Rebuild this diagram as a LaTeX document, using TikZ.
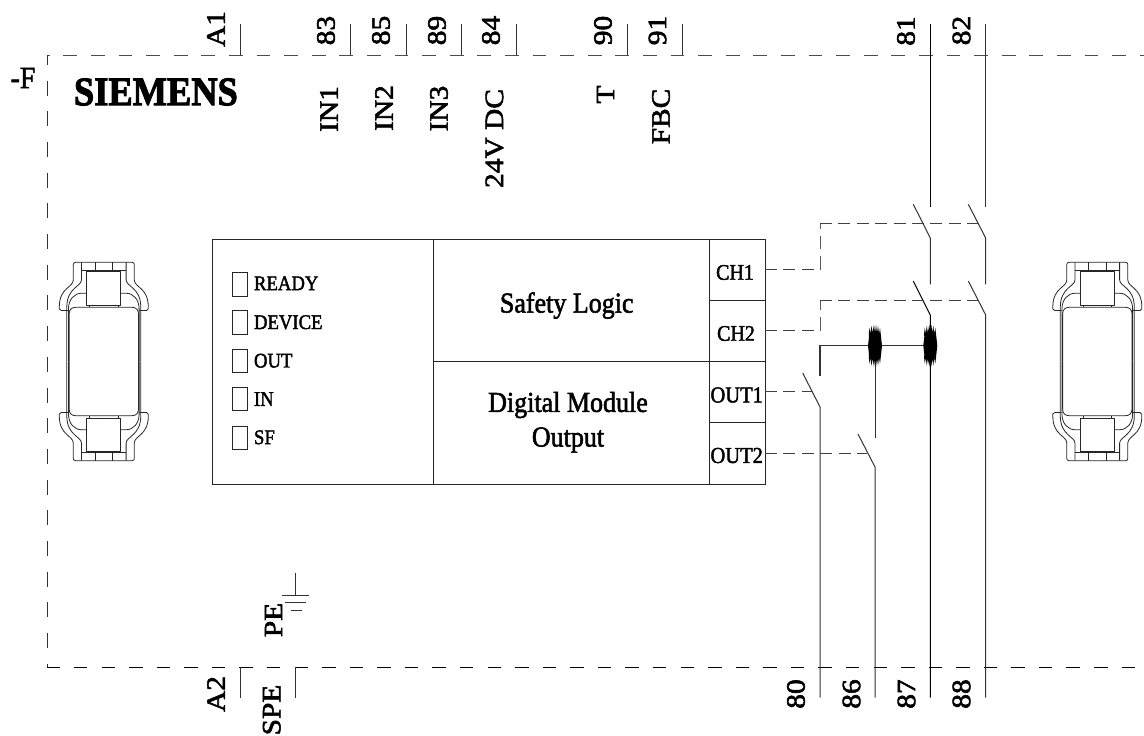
\documentclass[tikz,border=0pt]{standalone}
\usepackage{graphicx}
\usepackage{fontspec}
\setmainfont{Liberation Serif}
\newfontfamily\cadfont{Liberation Serif}[FakeBold=2]
\newfontfamily\cadbold{Liberation Serif Bold}[FakeBold=2.5]
\newcommand{\hlab}[2]{\scalebox{1}[1.11]{\fontsize{#1}{#1}\selectfont\cadfont #2}}
\newcommand{\vlab}[1]{\rotatebox{90}{\scalebox{1.11}[1]{\fontsize{26.5}{26.5}\selectfont\cadfont #1}}}
\tikzset{
  wire/.style={line width=1pt,black!80},
  ctrl/.style={line width=1pt,black!75,dash pattern=on 12pt off 6.4pt},
  ctrlv/.style={line width=1pt,black!65,dash pattern=on 13.3pt off 7.1pt},
  frameh/.style={line width=1pt,black!70,dash pattern=on 13.8pt off 13.8pt},
  framev/.style={line width=1pt,black!80,dash pattern=on 15pt off 15.7pt},
  cell/.style={draw=black!85,line width=1pt,rectangle,inner sep=0pt,outer sep=0pt},
  led/.style={cell,line width=0.9pt,minimum width=14.6pt,minimum height=23.8pt},
  txt/.style={inner sep=0pt,outer sep=0pt},
  clipline/.style={line width=0.8pt,black!85,line join=round}
}
\newcommand{\clipquarter}{%
  \draw[clipline] (0,-297.5) -- (-85,-297.5) .. controls (-89,-297.5) and (-91.5,-295) .. (-91.5,-291) -- (-91.5,-245)
     .. controls (-91.5,-222) and (-133,-222) .. (-133.5,-165) -- (-133.5,-158) .. controls (-133.5,-155) and (-131,-153) .. (-128,-153) -- (-107,-153);
  \draw[clipline] (-67,-297.5) -- (-67,-245) .. controls (-67,-225) and (-110,-222) .. (-111,-165) -- (-111,0);
  \draw[clipline] (-51,-205) -- (-65,-205) .. controls (-90,-205) and (-105,-185) .. (-106,-160) -- (-106,0);
  \draw[clipline] (0,-162.5) -- (-85,-162.5) .. controls (-97,-162.5) and (-104,-155) .. (-104,-143) -- (-104,0);
  \draw[clipline] (0,-269.5) -- (-51,-269.5) -- (-51,-169.5) -- (0,-169.5);
  \draw[clipline] (-67,-273) -- (0,-273);
  \draw[clipline] (-26.5,-297.5) -- (-26.5,-273);
  \draw[clipline] (-43,-169.5) -- (-43,-162.5);
}
\newcommand{\clipshape}[2]{%
  \foreach \sx/\sy in {1/1,-1/1,1/-1,-1/-1}{
    \begin{scope}[shift={(#1,#2)},x=\sx*0.3333pt,y=\sy*0.3333pt]
      \clipquarter
    \end{scope}
  }%
}
\newcommand{\blobshape}[1]{%
  \fill[black,shift={(#1)}] (-7,0) -- (-6,-9) -- (-6.2,-12) -- (-5.5,-18) -- (-4.6,-12) -- (-3.5,-20) -- (-2.5,-13) -- (-1,-21) -- (0,-13) -- (1,-21) -- (2,-13) -- (3,-20) -- (4,-12) -- (5,-18) -- (6,-9) -- (7,0)
   -- (6,9) -- (5,18) -- (4,12) -- (3,20) -- (2,13) -- (1,21) -- (0,13) -- (-1,21) -- (-2.5,13) -- (-3.5,20) -- (-4.6,12) -- (-5.5,18) -- (-6.2,12) -- (-6,9) -- cycle;
}
\begin{document}
\begin{tikzpicture}[x=1pt,y=-1pt]
\useasboundingbox (0,0) rectangle (1144,736);
% frame
\coordinate (tl) at (47,55);
\coordinate (tr) at (1144,55);
\coordinate (bl) at (47,667);
\coordinate (br) at (1144,667);
\draw[frameh,dash phase=11.3pt] (tl) -- (tr);
\draw[framev,dash phase=5.2pt] (tl) -- (bl);
\draw[frameh,black,dash pattern=on 13.5pt off 14.07pt,dash phase=0.6pt] (bl) -- (br);
% terminal ticks
\foreach \n/\x in {a1/240,t83/350.5,t85/406,t89/461,t84/516,t90/627,t91/682}{
  \coordinate (\n u) at (\x,24);
  \coordinate (\n d) at (\x,55);
  \draw[wire] (\n u) -- (\n d);
}
\foreach \n/\x in {a2/240,spe/295}{
  \coordinate (\n u) at (\x,667);
  \coordinate (\n d) at (\x,697.7);
  \draw[wire] (\n u) -- (\n d);
}
% labels
\node[txt] (lf) at (23,78) {\hlab{28}{-F}};
\node[txt,anchor=west] (lsiemens) at (74,92) {\scalebox{1}[1.11]{\fontsize{36.4}{36.4}\selectfont\cadbold SIEMENS}};
\foreach \n/\x/\y/\t in {na1/216/29/A1,n83/326/30.5/83,n85/381/30.5/85,n89/437/30.5/89,n84/491/30.5/84,n90/603/30.5/90,n91/657.5/30.5/91,n81/906/31/81,n82/961.5/30.5/82,
   lin1/329/109/IN1,lin2/384/108/IN2,lin3/439/108.5/IN3,l24/494.5/138.5/24V DC,lt/605.5/94.5/T,lfbc/661/116.5/FBC,
   lpe/273.5/620/PE,na2/216/694/A2,lspe/271.7/710/SPE,n80/796/694/80,n86/851.5/694/86,n87/906.5/694/87,n88/961.5/694/88}{
  \node[txt] (\n) at (\x,\y) {\vlab{\t}};
}
% module
\node[cell,minimum width=221pt,minimum height=245pt] (panel) at (322.5,361.5) {};
\node[cell,minimum width=276.5pt,minimum height=122pt] (safety) at (571.25,300) {};
\node[cell,minimum width=276.5pt,minimum height=123pt] (digital) at (571.25,422.5) {};
\node[cell,minimum width=55.5pt,minimum height=61pt] (ch1) at (737.25,269.5) {};
\node[cell,minimum width=55.5pt,minimum height=61pt] (ch2) at (737.25,330.5) {};
\node[cell,minimum width=55.5pt,minimum height=61.5pt] (out1) at (737.25,391.75) {};
\node[cell,minimum width=55.5pt,minimum height=61.5pt] (out2) at (737.25,453.25) {};
\node[txt] (tsafety) at (566.7,305.5) {\hlab{26}{Safety Logic}};
\node[txt] (tdigital) at (568,405) {\hlab{26}{Digital Module}};
\node[txt] (toutput) at (568,440) {\hlab{26}{Output}};
\node[txt] (tch1) at (735,272.5) {\hlab{20}{CH1}};
\node[txt] (tch2) at (736,333.5) {\hlab{20}{CH2}};
\node[txt] (tout1) at (736.7,395) {\hlab{20.5}{OUT1}};
\node[txt] (tout2) at (736.7,455.5) {\hlab{20.5}{OUT2}};
% LEDs
\foreach \n/\y/\ly/\t in {ready/284.5/283.3/READY,device/322.5/322.3/DEVICE,outl/361/360.7/OUT,inl/399/399/IN,sf/438/437.3/SF}{
  \node[led] (\n) at (240,\y) {};
  \node[txt,anchor=west] (\n t) at (254,\ly) {\hlab{18.7}{\t}};
}
% contacts
\coordinate (c81t) at (930.3,24);
\coordinate (c81a) at (930.3,207);
\coordinate (c81f) at (913.3,204.3);
\coordinate (c81b) at (930.3,238);
\coordinate (c81c) at (930.3,284.3);
\coordinate (c82t) at (985.7,24);
\coordinate (c82a) at (985.7,207);
\coordinate (c82f) at (968.3,204.3);
\coordinate (c82b) at (985.7,238);
\coordinate (c82c) at (985.7,284.3);
\draw[wire,black] (c81t) -- (c81a);
\draw[wire] (c82t) -- (c82a);
\draw[wire] (c81f) -- (c81b) -- (c81c);
\draw[wire] (c82f) -- (c82b) -- (c82c);
\coordinate (c87f) at (913.3,281);
\coordinate (c87b) at (930.3,315);
\coordinate (c87e) at (930.3,697.7);
\coordinate (c88f) at (968.3,281);
\coordinate (c88b) at (985.7,315);
\coordinate (c88e) at (985.7,697.7);
\draw[wire,black] (c87f) -- (c87b) -- (c87e);
\draw[wire] (c88f) -- (c88b) -- (c88e);
\coordinate (c80f) at (802.7,373);
\coordinate (c80b) at (820,407);
\coordinate (c80e) at (820,697.7);
\coordinate (c86f) at (858,434);
\coordinate (c86b) at (875,467);
\coordinate (c86e) at (875,697.7);
\draw[wire] (c80f) -- (c80b) -- (c80e);
\draw[wire] (c86f) -- (c86b) -- (c86e);
% common feed
\coordinate (cfa) at (820,376);
\coordinate (cfb) at (820,345.7);
\coordinate (bl1) at (875,345.7);
\coordinate (bl2) at (930.3,345.7);
\coordinate (cfd) at (875,437.7);
\draw[wire,line width=1.2pt] (cfa) -- (cfb) -- (bl2);
\draw[wire] (bl1) -- (cfd);
\blobshape{bl1}
\blobshape{bl2}
% control links
\coordinate (k1) at (820,223.3);
\coordinate (k1e) at (978.3,223.3);
\coordinate (k2) at (820,300);
\coordinate (k2e) at (978.3,300);
\coordinate (k1m) at (820,269.5);
\coordinate (k2m) at (820,330.5);
\coordinate (k3) at (811.7,391.75);
\coordinate (k4) at (866.7,453.25);
\draw[ctrl] (ch1.east) -- (k1m);
\draw[ctrlv] (k1m) -- (k1);
\draw[ctrl] (k1) -- (k1e);
\draw[ctrl] (ch2.east) -- (k2m);
\draw[ctrlv] (k2m) -- (k2);
\draw[ctrl] (k2) -- (k2e);
\draw[ctrl] (out1.east) -- (k3);
\draw[ctrl] (out2.east) -- (k4);
% ground
\coordinate (g0) at (295,572.7);
\coordinate (g1) at (295,595);
\coordinate (g1a) at (281.7,595);
\coordinate (g1b) at (309,595);
\coordinate (g2a) at (285,602.3);
\coordinate (g2b) at (305.7,602.3);
\coordinate (g3a) at (290.7,610);
\coordinate (g3b) at (301.7,610);
\draw[wire] (g0) -- (g1);
\draw[wire] (g1a) -- (g1b);
\draw[wire] (g2a) -- (g2b);
\draw[wire] (g3a) -- (g3b);
% clips
\clipshape{103.8}{361.5}
\clipshape{1097.3}{361.5}
\end{tikzpicture}
\end{document}
